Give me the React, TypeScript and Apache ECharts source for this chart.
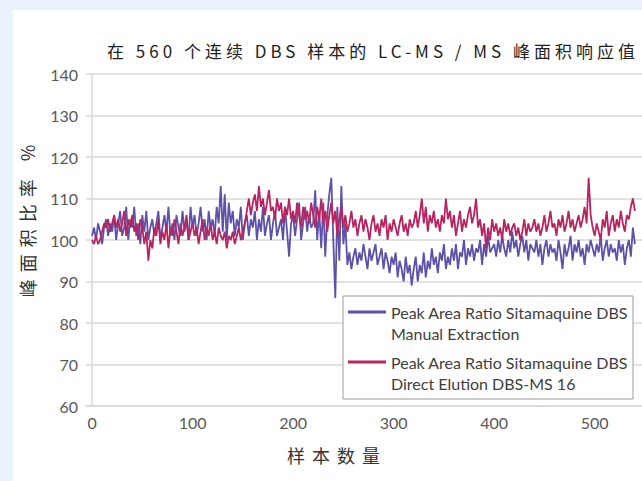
import React, { useEffect, useRef } from "react";
import * as echarts from "echarts";

// Sample number axis ticks
const xTickValues = [0, 100, 200, 300, 400, 500];

// Peak Area Ratio Sitamaquine DBS Manual Extraction (every 2nd sample, 0..540)
const manualExtraction = [
  101, 103, 100, 104, 102, 99, 103, 105, 101, 104,
  102, 106, 100, 104, 107, 101, 103, 108, 100, 105,
  103, 108, 101, 104, 99, 106, 102, 107, 100, 103,
  105, 101, 104, 107, 100, 103, 106, 102, 108, 101,
  104, 100, 106, 103, 101, 107, 102, 105, 100, 108,
  103, 106, 101, 104, 108, 102, 105, 100, 107, 103,
  105, 101, 108, 104, 113, 102, 111, 100, 109, 104,
  107, 101, 105, 103, 108, 100, 104, 106, 101, 105,
  103, 107, 100, 105, 102, 108, 101, 104, 106, 100,
  104, 107, 101, 103, 105, 100, 108, 102, 96, 104,
  106, 101, 105, 109, 100, 104, 108, 102, 106, 103,
  104, 112, 100, 107, 98, 109, 96, 106, 111, 115,
  100, 86, 108, 95, 113, 99, 104, 94, 97, 93,
  96, 98, 94, 97, 95, 99, 96, 93, 98, 95,
  97, 99, 94, 96, 98, 93, 97, 95, 92, 96,
  94, 97, 91, 95, 93, 90, 96, 92, 94, 89,
  93, 96, 90, 94, 92, 97, 91, 95, 93, 98,
  94, 96, 92, 97, 95, 99, 93, 96, 94, 98,
  95, 99, 93, 97, 96, 100, 94, 98, 96, 99,
  95, 98, 97, 100, 94, 99, 96, 101, 97, 98,
  99, 96, 100, 97, 101, 98, 96, 100, 97, 102,
  98, 100, 96, 99, 101, 97, 100, 95, 99, 98,
  97, 100, 96, 99, 94, 98, 100, 96, 99, 97,
  98, 95, 100, 97, 93, 99, 96, 98, 101, 95,
  99, 97, 100, 96, 98, 94, 99, 97, 100, 98,
  96, 99, 97, 101, 95, 98, 100, 96, 99, 97,
  98, 95, 100, 97, 99, 94, 98, 100, 96, 103,
  99,
];

// Peak Area Ratio Sitamaquine DBS Direct Elution DBS-MS 16 (every 2nd sample, 0..540)
const directElution = [
  100, 99, 101, 99, 100, 102, 104, 103, 105, 102,
  104, 106, 103, 105, 102, 104, 107, 101, 105, 103,
  106, 102, 104, 100, 105, 103, 99, 102, 95, 100,
  98, 103, 101, 105, 99, 102, 100, 104, 98, 103,
  101, 105, 102, 99, 104, 101, 103, 106, 100, 102,
  104, 101, 103, 99, 102, 105, 100, 103, 101, 104,
  100, 102, 99, 103, 101, 100, 102, 98, 101, 100,
  102, 99, 101, 103, 100, 102, 104, 107, 110, 106,
  109, 111, 107, 113, 108, 110, 106, 109, 112, 107,
  108, 105, 110, 107, 109, 104, 108, 106, 110, 105,
  107, 104, 109, 106, 103, 108, 105, 107, 104, 109,
  106, 103, 108, 105, 110, 104, 107, 102, 106, 109,
  104, 107, 101, 105, 108, 103, 106, 102, 104, 107,
  103, 105, 101, 104, 106, 102, 105, 103, 100, 104,
  106, 102, 104, 101, 105, 103, 106, 100, 104, 102,
  105, 103, 101, 104, 106, 102, 104, 101, 105, 103,
  104, 107, 103, 106, 110, 104, 108, 102, 106, 104,
  107, 103, 105, 102, 106, 104, 110, 105, 107, 103,
  106, 101, 104, 107, 102, 105, 103, 106, 108, 104,
  106, 110, 103, 105, 101, 104, 98, 103, 100, 105,
  102, 104, 101, 103, 100, 105, 102, 104, 101, 103,
  104, 101, 103, 100, 102, 105, 101, 104, 102, 103,
  105, 102, 104, 101, 103, 106, 102, 104, 107, 103,
  104, 101, 105, 103, 106, 102, 104, 107, 103, 105,
  102, 104, 106, 103, 105, 108, 104, 115, 106, 103,
  101, 104, 102, 100, 105, 103, 107, 101, 104, 106,
  102, 105, 103, 107, 104, 102, 106, 105, 108, 110,
  107,
];

const seriesNames = [
  "Peak Area Ratio Sitamaquine DBS\nManual Extraction",
  "Peak Area Ratio Sitamaquine DBS\nDirect Elution DBS-MS 16",
];

const titleText = "在 560 个连续 DBS 样本的 LC-MS / MS 峰面积响应值";
const xName = "样本数量";
const yName = "峰面积比率 %";

const BLUE = "#5d51a8";
const RED = "#b8245f";

const legendIconPath =
  "path://M0 0 L0 0 M38 42 L38 42 M0 9 L38 9 L38 12 L0 12 Z";

export default function App() {
  const ref = useRef<HTMLDivElement>(null);

  useEffect(() => {
    if (!ref.current) return;
    const chart = echarts.init(ref.current, undefined, { renderer: "svg" });
    const sampleNo = manualExtraction.map((_, i) => i * 2);
    const latin = "Lato";
    chart.setOption({
      animation: false,
      backgroundColor: "transparent",
      title: {
        text: titleText,
        left: 107,
        top: 41,
        padding: 0,
        textStyle: {
          fontFamily: "Noto Sans CJK SC",
          fontSize: 17,
          fontWeight: "normal",
          color: "#222",
          lineHeight: 18,
        },
      },
      grid: { left: 86, right: 25, top: 74, bottom: 75, containLabel: false },
      legend: {
        orient: "vertical",
        left: 343,
        top: 296,
        padding: [5.5, 5, 5.5, 5],
        backgroundColor: "#fff",
        borderColor: "#9a9a9a",
        borderWidth: 1,
        itemWidth: 38,
        itemHeight: 42,
        itemGap: 8,
        icon: legendIconPath,
        itemStyle: { borderWidth: 0 },
        textStyle: {
          fontFamily: latin,
          fontSize: 16,
          color: "#404040",
          lineHeight: 21,
        },
        data: seriesNames,
      },
      xAxis: {
        type: "value",
        min: -6,
        max: 560,
        name: xName,
        nameLocation: "middle",
        nameGap: 40,
        nameTextStyle: {
          fontFamily: "Noto Sans CJK SC, Noto Sans CJK TC",
          fontSize: 18,
          color: "#333",
          padding: [0, 67, 0, 0],
        },
        axisLine: { show: true, lineStyle: { color: "#d9d9d9", width: 1.5 } },
        axisTick: { show: false },
        splitLine: { show: false },
        axisLabel: {
          customValues: xTickValues,
          fontFamily: latin,
          fontSize: 16,
          color: "#595959",
          margin: 8,
        },
      },
      yAxis: {
        type: "value",
        min: 60,
        max: 140,
        interval: 10,
        name: yName,
        nameLocation: "middle",
        nameRotate: 90,
        nameGap: 50,
        nameTextStyle: {
          fontFamily: "Noto Sans CJK SC, Noto Sans CJK TC",
          fontSize: 18,
          color: "#333",
          padding: [0, 0, 0, 45],
        },
        axisLine: { show: true, lineStyle: { color: "#d9d9d9", width: 1.5 } },
        axisTick: { show: false },
        splitLine: { show: true, lineStyle: { color: "#d9d9d9", width: 1.5 } },
        axisLabel: {
          fontFamily: latin,
          fontSize: 16,
          color: "#595959",
          margin: 8,
        },
      },
      series: [
        {
          name: seriesNames[0],
          type: "line",
          symbol: "none",
          data: manualExtraction.map((v, i) => [sampleNo[i], v]),
          lineStyle: { color: BLUE, width: 1.8 },
          itemStyle: { color: BLUE },
        },
        {
          name: seriesNames[1],
          type: "line",
          symbol: "none",
          data: directElution.map((v, i) => [sampleNo[i], v]),
          lineStyle: { color: RED, width: 1.8 },
          itemStyle: { color: RED },
        },
      ],
    });
    return () => chart.dispose();
  }, []);

  return (
    <div
      style={{
        position: "fixed",
        left: 0,
        top: 0,
        width: 642,
        height: 481,
        background: "#eaf3fb",
        overflow: "hidden",
      }}
    >
      <style>{`
        text[style*="CJK SC"] { letter-spacing: 4px; }
        text[style*="CJK TC"] { letter-spacing: 7px; }
      `}</style>
      <div
        style={{
          position: "absolute",
          left: 13,
          top: 10,
          right: 0,
          bottom: 0,
          background: "#ffffff",
        }}
      />
      <div
        ref={ref}
        style={{ position: "absolute", left: 0, top: 0, width: 680, height: 481 }}
      />
    </div>
  );
}
